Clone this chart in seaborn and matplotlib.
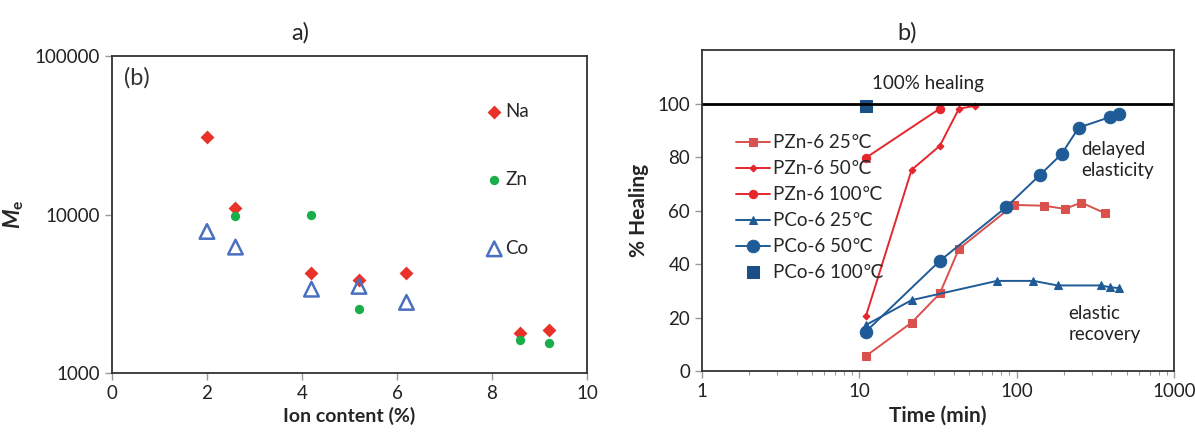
import numpy as np
import pandas as pd
import matplotlib
matplotlib.use("Agg")
import matplotlib.pyplot as plt
import seaborn as sns

# ---- panel a) data: Me vs ion content
na_x = [2.0, 2.6, 4.2, 5.2, 6.2, 8.6, 9.2]
na_me = [30900, 11000, 4250, 3840, 4250, 1780, 1875]
zn_x = [2.6, 4.2, 5.2, 8.6, 9.2]
zn_me = [9850, 9900, 2530, 1610, 1545]
co_x = [2.0, 2.6, 4.2, 5.2, 6.2]
co_me = [7820, 6230, 3380, 3520, 2790]

# ---- panel b) data: healing vs time
pzn25_t = [11, 21.5, 32.5, 43, 96, 150, 203, 257, 365]
pzn25_h = [5.6, 18.1, 29.0, 45.7, 62.1, 61.8, 60.6, 63.0, 59.0]
pzn50_t = [11, 21.5, 32.5, 43, 54]
pzn50_h = [20.4, 75.2, 84.2, 98.1, 99.1]
pzn100_t = [11, 32.5]
pzn100_h = [79.7, 98.1]
pco25_t = [11, 21.5, 75, 128, 182, 342, 395, 450]
pco25_h = [17.2, 26.5, 33.7, 33.7, 32.0, 32.0, 31.3, 31.0]
pco50_t = [11, 32.5, 86, 140, 193, 248, 395, 450]
pco50_h = [14.7, 41.2, 61.3, 73.2, 81.1, 91.0, 95.0, 96.1]
pco100_t = [11]
pco100_h = [99.1]

sns.set_style("white")
plt.rcParams['font.family'] = ['Lato', 'DejaVu Sans']
plt.rcParams['mathtext.fontset'] = 'custom'
plt.rcParams['mathtext.bf'] = 'Lato:bold'
plt.rcParams['mathtext.bfit'] = 'Lato:bold:italic'

FS = 13.5

fig = plt.figure(figsize=(11.95, 4.36), dpi=100)
ax1 = fig.add_axes([0.0937, 0.1445, 0.3975, 0.727])
ax2 = fig.add_axes([0.5874, 0.149, 0.395, 0.7362])

red = '#E8322A'
green = '#19AE4A'
coblue = '#4A70C0'

sns.scatterplot(x=na_x, y=na_me, ax=ax1, marker='D', s=50, color=red,
                edgecolor=red, linewidth=0, label='Na')
sns.scatterplot(x=zn_x, y=zn_me, ax=ax1, marker='o', s=45, color=green,
                edgecolor=green, linewidth=0, label='Zn')
sns.scatterplot(x=co_x, y=co_me, ax=ax1, marker='^', s=110, facecolor='none',
                edgecolor=coblue, linewidth=1.8, label='Co')

ax1.set_yscale('log')
ax1.set_xlim(0, 10)
ax1.set_ylim(1000, 100000)
ax1.set_xticks([0, 2, 4, 6, 8, 10])
ax1.set_yticks([1000, 10000, 100000])
ax1.set_yticklabels(['1000', '10000', '100000'])
ax1.yaxis.set_minor_locator(matplotlib.ticker.NullLocator())
ax1.set_xlabel('Ion content (%)', fontsize=14, fontweight='bold', labelpad=4)
ax1.set_ylabel(r'$\mathbfit{M}_{\mathbf{e}}$', fontsize=16, labelpad=6)
ax1.text(0.025, 0.93, '(b)', transform=ax1.transAxes, fontsize=17,
         va='center', ha='left', color='#333333')
ax1.legend(loc='upper left', bbox_to_anchor=(0.785, 0.853), frameon=False,
           labelspacing=2.75, handletextpad=0.1, handlelength=1.0,
           borderpad=0, borderaxespad=0, fontsize=FS)

# right panel
dkred = '#D9504C'
bred = '#E5262C'
blue = '#1F5B96'
series = [
    (pzn25_t, pzn25_h, 'PZn-6 25\u2103', dkred, 's', 5.5),
    (pzn50_t, pzn50_h, 'PZn-6 50\u2103', bred, 'D', 3.5),
    (pzn100_t, pzn100_h, 'PZn-6 100\u2103', bred, 'o', 6),
    (pco25_t, pco25_h, 'PCo-6 25\u2103', blue, '^', 5.5),
    (pco50_t, pco50_h, 'PCo-6 50\u2103', blue, 'o', 9),
]
for t, h, lab, c, m, ms in series:
    sns.lineplot(x=t, y=h, ax=ax2, color=c, marker=m, markersize=ms,
                 markeredgecolor=c, linewidth=1.4, label=lab,
                 sort=False, estimator=None)
sns.lineplot(x=pco100_t, y=pco100_h, ax=ax2, color='#1B4F86', marker='s',
             markersize=8, markeredgecolor='#1B4F86', linestyle='none',
             label='PCo-6 100\u2103', estimator=None)

ax2.axhline(100, color='black', lw=2)
ax2.set_xscale('log')
ax2.set_xlim(1, 1000)
ax2.set_ylim(0, 120)
ax2.set_yticks([0, 20, 40, 60, 80, 100])
ax2.set_xticks([1, 10, 100, 1000])
ax2.set_xticklabels(['1', '10', '100', '1000'])
ax2.set_xlabel('Time (min)', fontsize=15, fontweight='bold', labelpad=4)
ax2.set_ylabel('% Healing', fontsize=15, fontweight='bold', labelpad=6)
ax2.text(27.5, 107.5, '100% healing', ha='center', va='center', fontsize=FS,
         color='#222222')
ax2.text(258, 79, 'delayed\nelasticity', ha='left', va='center', fontsize=FS,
         color='#222222', linespacing=1.3)
ax2.text(214, 17.5, 'elastic\nrecovery', ha='left', va='center', fontsize=FS,
         color='#222222', linespacing=1.3)
ax2.legend(loc='upper left', bbox_to_anchor=(0.073, 0.737), frameon=False,
           labelspacing=0.48, handletextpad=0.15, handlelength=1.8,
           borderpad=0, borderaxespad=0, fontsize=FS)

for ax in (ax1, ax2):
    for sp in ax.spines.values():
        sp.set_color('#333333')
        sp.set_linewidth(1.3)
    ax.tick_params(axis='both', which='both', direction='out', color='#999999',
                   labelsize=FS, labelcolor='#222222')
    ax.tick_params(axis='both', which='major', length=5, width=1)
    ax.tick_params(axis='x', which='minor', length=3, width=0.8)
    ax.tick_params(axis='x', which='both', bottom=True)
    ax.tick_params(axis='y', which='both', left=True)

fig.text(300 / 1195, 1 - 33 / 436, 'a)', ha='center', va='center', fontsize=17)
fig.text(907 / 1195, 1 - 33 / 436, 'b)', ha='center', va='center', fontsize=17)

fig.savefig('out.png', dpi=100)
